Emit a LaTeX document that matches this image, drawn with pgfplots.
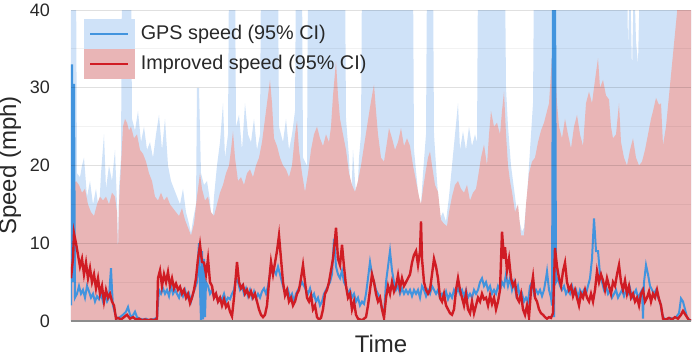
\documentclass[border=0pt]{standalone}
\usepackage{fontspec}
\setmainfont{Liberation Sans}
\usepackage{pgfplots}
\pgfplotsset{compat=1.18}
\definecolor{bandblue}{RGB}{207,226,248}
\definecolor{bandred}{RGB}{233,181,182}
\definecolor{lineblue}{RGB}{66,148,222}
\definecolor{linered}{RGB}{208,28,36}
\definecolor{txt}{RGB}{40,40,40}
\begin{document}
\begin{tikzpicture}
\path[use as bounding box] (-35.5pt,-19.5pt) rectangle (311.5pt,160.5pt);
\begin{axis}[
  at={(0,0)}, anchor=south west,
  width=310pt, height=155.5pt, scale only axis,
  xmin=71, xmax=691, ymin=0, ymax=40,
  xtick=\empty, ytick={0,10,20,30,40},
  minor y tick num=1,
  major tick length=0pt, minor tick length=0pt,
  ymajorgrids, yminorgrids,
  major grid style={black, opacity=0.12, line width=0.5pt},
  minor grid style={black, opacity=0.05, line width=0.5pt},
  extra y ticks={0}, extra y tick labels={},
  extra y tick style={major grid style={black!45, opacity=1, line width=0.8pt}},
  axis on top,
  axis line style={draw=none},
  /pgf/number format/assume math mode=true,
  yticklabel style={font=\fontsize{9}{9}\selectfont, text=txt, xshift=-7pt},
  xlabel={Time}, ylabel={Speed (mph)},
  xlabel style={font=\fontsize{12}{12}\selectfont, text=txt, at={(axis description cs:0.5,-0.074)}, anchor=center},
  ylabel style={font=\fontsize{12}{12}\selectfont, text=txt, at={(axis description cs:-0.0984,0.5)}, anchor=center},
  legend style={at={(axis description cs:0,1)}, anchor=north west, xshift=6.5pt, yshift=-4.5pt,
    draw=none, fill=none, inner sep=0pt, outer sep=0pt, row sep=0pt, column sep=3pt,
    font=\fontsize{9.9}{10}\selectfont, text=txt, nodes={inner sep=0pt}},
  legend cell align=left,
]
\addlegendimage{legend image code/.code={\fill[bandblue] (0pt,-7.25pt) rectangle (25pt,7.25pt); \draw[lineblue, line width=1pt] (3pt,0pt) -- (22pt,0pt);}}
\addlegendentry{GPS speed (95\% CI)}
\addlegendimage{legend image code/.code={\fill[bandred] (0pt,-7.25pt) rectangle (25pt,7.25pt); \draw[linered, line width=1pt] (3pt,0pt) -- (22pt,0pt);}}
\addlegendentry{Improved speed (95\% CI)}

% GPS upper CI
\addplot[fill=bandblue, draw=none, forget plot] coordinates {
(71,45) (76,45) (77,19) (80,18.5) (82,20) (84,21) (87,16) (90,18) (93,15) (96,17) (99,14) (101,19) (104,24) (106,17) (109,20) (112,18) (115,22) (117,15) (118,8.5) (119,17) (121,21) (122,45) (131,45) (132,26) (135,24.5) (138,27) (141,23) (144,25) (147,22) (150,23) (153,21) (156,24) (159,26.5) (162,22) (165,26) (168,20) (171,18) (174,17) (177,16) (180,15) (183,17) (186,14) (189,12.5) (191,11.3) (193,13) (196,15) (197,30) (199,30) (201,19) (204,17.5) (207,18) (210,15.5) (212,12) (214,16) (217,20) (220,23) (223,28) (225,21) (228,24) (229,45) (235,45) (236,25) (239,26.5) (242,22) (245,28) (248,24) (251,23) (254,26) (257,22) (260,24) (261,45) (278,45) (279,25) (283,23) (286,26) (289,22) (292,24) (295,27) (296,45) (302,45) (303,21) (307,20) (308,45) (345,45) (346,26) (349,21) (351,15) (353,22) (355,18) (357,15) (359,21) (361,24) (362,45) (413,45) (414,22) (417,18) (419,15) (421,15) (423,19) (426,24) (427,45) (433,45) (434,24) (437,18) (440,13.2) (443,14) (446,12.8) (449,16) (452,20) (455,24) (458,28) (460,22) (463,24.4) (466,22) (469,25) (472,22.5) (475,24) (477,23) (478,45) (505,45) (506,30) (508,25) (511,20) (514,17) (517,14) (520,12.5) (522,11.5) (524,12) (527,16) (530,22) (533,28) (534,45) (627,45) (628,35) (630,45) (632,32) (634,45) (636,36) (638,33) (640,45) (691,45)
} \closedcycle;

% Improved upper CI
\addplot[fill=bandred, draw=none, forget plot] coordinates {
(71,17) (76,18) (79,17.5) (82,16.5) (85,17) (88,15) (91,14) (94,13.5) (97,15) (100,16) (103,15.5) (106,16) (109,15) (112,16.5) (115,16) (117,14) (118,8.5) (119,15) (121,20) (123,25) (125,26) (127,25.5) (129,24.5) (131,25) (134,23.5) (137,24) (140,22) (143,21.5) (146,20.5) (149,19) (152,18) (155,16) (158,15.5) (161,16.5) (164,15.5) (167,16) (170,15) (173,14.5) (176,14) (179,13.5) (182,14.5) (185,13) (188,12) (191,11) (194,12.5) (197,16) (200,19) (202,17) (205,15.5) (208,16) (211,14) (214,13.5) (217,15) (220,16.5) (223,17.5) (226,19) (229,20) (231,22) (233,24.4) (235,21) (238,18) (241,18.5) (244,17.5) (247,19) (250,19.5) (253,18.5) (256,20) (259,21) (262,23) (265,26) (268,29) (270,31) (272,28) (274,23.5) (277,22.5) (280,21) (283,20) (286,19.5) (289,18.5) (292,20) (295,24) (297,25.7) (299,22) (302,19) (305,16.6) (308,19) (311,22) (314,24) (317,25) (320,23.5) (323,22.5) (326,24) (329,23) (331,25) (333,29) (336,33.4) (338,29) (340,26) (343,24) (346,22) (349,19) (352,17.5) (355,16.6) (358,18) (361,20) (364,22.5) (367,25) (370,27.5) (372,29) (374,30.4) (376,27) (378,24) (381,21) (384,20.5) (387,23) (389,24.8) (392,23.5) (395,22) (398,23) (401,24.8) (404,22.5) (407,23.5) (410,22.5) (413,20) (416,18) (419,16) (421,15) (423,17) (426,19.5) (428,21) (430,21.8) (432,20) (435,17.5) (438,16.6) (441,13) (444,12.5) (447,12.2) (449,14) (452,16) (455,17.5) (458,18) (461,17) (464,16.5) (467,17.5) (470,15.5) (473,16.5) (476,17) (478,18.5) (481,21) (484,22.7) (487,20) (489,24) (491,27) (494,25) (497,25.5) (500,24) (502,27) (504,29.5) (506,24) (508,20) (510,18) (512,16.6) (515,14) (518,15) (521,11) (524,11) (526,15) (529,19) (532,20.5) (535,21) (538,23) (541,24.5) (544,25.5) (547,27) (549,28) (551,32) (553,36.4) (555,33) (557,28) (559,25) (562,23.5) (565,26) (568,24) (571,22.2) (574,25) (577,26.5) (580,24) (583,22.5) (586,28) (589,29.5) (592,28) (595,31) (598,33.8) (600,30) (603,31) (606,29) (609,28.5) (611,25) (613,23.5) (616,24) (619,28) (621,23) (624,21) (627,20) (630,22) (633,23.5) (636,21) (639,20) (642,20.5) (645,22) (648,24) (651,26) (653,27) (656,28.7) (659,27.8) (661,28) (663,22.6) (666,25) (669,29) (672,33) (675,37) (678,41) (691,45)
} \closedcycle;

% GPS speed
\addplot[lineblue, line width=1pt, forget plot] coordinates {
(71,2) (72,33) (73,5) (74,30.5) (75,3) (77,3.5) (79,4.5) (81,3.5) (83,4) (85,3) (87,4.5) (89,3.8) (91,3) (93,3.5) (95,2.5) (97,3.2) (99,2.8) (101,3.5) (103,2.5) (105,3.2) (107,2.5) (109,3) (110,5) (111,6.8) (112,4) (113,2) (115,1) (117,0.3) (120,0.5) (123,0.8) (126,1.2) (128,1.8) (130,0.8) (132,0.5) (135,1.2) (137,0.5) (140,0.3) (143,0.2) (146,0.3) (149,0.1) (152,0.2) (155,0.3) (157,0.5) (159,4) (161,3.5) (163,4.2) (165,3.5) (167,4) (169,3.2) (171,4.5) (173,3.5) (175,4) (177,3.5) (179,3) (181,4) (183,3.2) (185,4) (187,3) (189,3.5) (191,2.5) (193,3.5) (195,4.2) (197,5) (198,8) (199,10) (200,4) (201,0) (202,9) (203,0.2) (204,8) (205,0.5) (206,5) (208,4.5) (210,3.5) (212,4) (214,3) (216,3.5) (218,2.5) (220,3) (222,2.8) (224,3.5) (226,2.5) (228,3) (230,2.8) (232,3.5) (234,4) (236,5.5) (238,5) (240,4) (242,4.5) (244,3.5) (246,4.2) (248,3.2) (250,4) (252,3) (254,3.8) (256,2.9) (258,3.5) (260,3) (262,3.8) (264,4.2) (266,3.5) (268,4.5) (270,6) (272,7) (274,6.5) (276,6) (278,7) (280,6) (282,5) (284,4) (286,3.5) (288,4) (290,3) (292,3.5) (294,2.5) (296,3.5) (298,4) (300,4.5) (302,5) (304,4.5) (306,4) (308,3.5) (310,4.2) (312,3) (314,3.5) (316,2.5) (318,3) (320,2) (322,2.5) (324,3.5) (326,4) (328,4.5) (330,5) (332,6) (334,10.6) (336,7) (338,6) (340,5.5) (342,6.5) (344,5) (346,4.5) (348,3.5) (350,4) (352,3) (354,3.5) (356,2.5) (358,3) (360,2) (362,2.5) (364,2.2) (366,3.5) (368,5.5) (370,7.6) (372,6) (374,5) (376,4) (378,3.5) (380,3) (382,1.5) (384,0.8) (386,5) (388,7) (390,9) (392,6.5) (394,5) (396,4) (398,4.5) (400,3.5) (402,4.2) (404,3.5) (406,4) (408,3.5) (410,4) (412,3.2) (414,4) (416,3.5) (418,4) (420,3) (422,4.5) (424,4) (426,3.2) (428,4) (430,3.5) (432,4.5) (434,4) (436,3.5) (438,4) (440,3) (442,3.5) (444,3) (446,3.8) (448,2.8) (450,3.5) (452,3) (454,4) (456,3.5) (458,4.2) (460,3.5) (462,4) (464,3.2) (466,4) (468,3) (470,3.5) (472,3) (474,4) (476,3.5) (478,4) (480,5) (482,5.5) (484,4.5) (486,5) (488,4) (490,4.5) (492,3.5) (494,4) (496,3.5) (498,4.5) (500,4) (502,5) (504,4.5) (506,6) (508,4.5) (510,5.5) (512,4) (514,5) (516,3.5) (518,4.5) (520,3) (522,3.5) (524,2.5) (526,3) (528,2.5) (530,4.5) (532,5) (534,3.5) (536,4) (538,3.5) (540,4) (542,3.2) (544,4) (546,5.5) (547,6.4) (549,4) (551,3) (552,2) (553,45) (554,0.5) (555,45) (556,5) (558,5.5) (560,4.5) (562,4) (564,4.5) (566,3.5) (568,4) (570,3.5) (572,4.5) (574,3.5) (576,4) (578,3) (580,4) (582,3.5) (584,4) (586,3.5) (588,4.5) (590,5.5) (592,8) (594,13.2) (596,9) (598,9) (600,6) (602,5) (604,4) (606,4.5) (608,3.5) (610,4) (612,3) (614,3.5) (616,4) (618,3) (620,3.5) (622,4) (624,3.2) (626,4) (628,3.5) (630,4.2) (632,3) (634,3.5) (636,4) (638,3) (640,3.5) (642,4) (643,0.3) (644,5) (646,7.2) (648,6) (650,4.5) (652,4) (654,3.5) (656,4) (658,3) (660,2.5) (662,1) (664,0.3) (667,0.2) (670,0.4) (673,0.3) (676,0.5) (679,1) (681,2.9) (683,2.5) (685,1.5) (687,0.5) (689,0.2) (691,0.1)
};

% Improved speed
\addplot[linered, line width=1.2pt, forget plot] coordinates {
(71,5.5) (73,8) (74,11.3) (76,10) (78,8.5) (80,7) (82,8) (84,6) (86,7.5) (88,5.5) (90,6.8) (92,5) (94,6) (96,4.2) (98,5.5) (100,3.5) (102,4.5) (104,2.5) (106,4) (108,3) (110,3.5) (112,2.5) (114,2) (116,0.3) (118,0.4) (121,0.2) (124,0.5) (127,0.8) (130,0.3) (133,0.5) (136,0.2) (139,0.3) (142,0.1) (145,0.2) (148,0.1) (151,0.2) (154,0.1) (157,0.3) (158,5.5) (160,6.5) (162,4.5) (164,6) (166,5) (168,6.3) (170,4.5) (172,5.5) (174,4.2) (176,4.8) (178,4) (180,4.4) (182,3.5) (184,4) (186,3) (188,3.5) (190,2.3) (192,3) (194,4) (196,5.5) (198,8) (200,9.8) (202,7.6) (204,7.5) (206,6) (208,8) (210,5) (212,4.5) (214,3) (216,3.5) (218,2.5) (220,3) (222,2) (224,2.8) (226,1.8) (228,2.2) (230,1.2) (232,0.6) (234,3) (236,6) (237,7.6) (239,5) (241,4.2) (243,4.6) (245,3.5) (247,4) (249,3.2) (251,3.8) (253,3) (255,3.5) (257,2.5) (259,1.5) (261,0.8) (263,0.5) (265,0.8) (267,2) (269,5) (271,7.6) (273,6) (275,7.5) (277,9) (279,11) (281,8) (283,5) (285,3.3) (287,4) (289,2.5) (291,3) (293,2) (295,2.5) (297,3.5) (299,4) (301,5.5) (303,7.2) (305,5) (307,3) (309,2.5) (311,3.3) (313,1.5) (315,2) (317,0.5) (319,0.2) (321,0.4) (323,1.5) (325,3.5) (327,4) (329,5) (331,6.5) (333,8) (335,10.5) (336,12) (338,8) (340,7.2) (342,9.8) (344,7) (346,4.5) (348,3) (350,3.5) (352,1.5) (354,2.5) (356,0.8) (358,0.3) (360,0.2) (362,0.1) (364,0.3) (366,0.5) (368,2) (370,4) (372,6) (374,5) (376,3.5) (378,2.5) (380,3) (382,1.5) (384,0.4) (386,3) (388,4.5) (390,3.5) (392,5) (394,3.8) (396,4.5) (398,5.9) (400,4.2) (402,5.5) (404,4.5) (406,5) (408,5.5) (410,6) (412,7.5) (414,8.5) (416,9) (418,7.2) (420,9) (421,12.8) (422,8) (424,5) (426,4) (428,3.5) (430,4) (432,6) (434,8) (436,7) (438,5.5) (440,3) (442,2.5) (444,3.5) (446,2) (448,1.5) (450,1) (452,0.8) (454,1.5) (456,4) (458,5.5) (460,4) (462,3) (464,2) (466,3.5) (468,1.5) (470,1) (472,2.5) (474,1) (476,2) (478,3) (480,2.5) (482,3.5) (484,2.8) (486,3) (488,2) (490,3.3) (492,2.2) (494,3) (496,1.5) (498,2.5) (500,4) (502,11.5) (504,8) (505,9.5) (507,6.5) (509,8) (511,5.5) (513,4.5) (515,5) (517,3) (519,2.5) (521,3.5) (523,1.5) (525,0.8) (527,2) (529,0.5) (531,4) (533,5.7) (535,3) (537,2.5) (539,1.5) (541,1) (543,0.8) (545,0.5) (547,0.3) (549,0.5) (551,0.4) (553,1) (554,5) (555,9.4) (557,7) (559,5.5) (561,4.5) (563,6.4) (565,7.5) (567,5) (569,4) (571,4.5) (573,3.2) (575,4) (577,3) (579,2) (581,3.5) (583,3) (585,4) (587,3) (589,2.5) (591,3.5) (593,2.5) (595,4) (597,6.4) (599,5) (601,6) (603,5.2) (605,4) (607,5.5) (609,4.5) (611,3.5) (613,5) (615,4.5) (617,6) (619,7.2) (621,5) (623,4) (625,5.2) (627,3.5) (629,4.5) (631,3) (633,3.5) (635,2.5) (637,3) (639,2) (641,3.5) (643,4) (645,2.5) (647,3) (649,3.8) (651,2.5) (653,3.5) (655,3) (657,4) (659,2.8) (661,2) (663,0.3) (666,0.2) (669,0.4) (672,0.2) (675,0.5) (678,0.3) (681,0.8) (683,1.3) (685,0.9) (687,0.5) (689,0.1) (691,0.1)
};
\end{axis}
\end{tikzpicture}
\end{document}
